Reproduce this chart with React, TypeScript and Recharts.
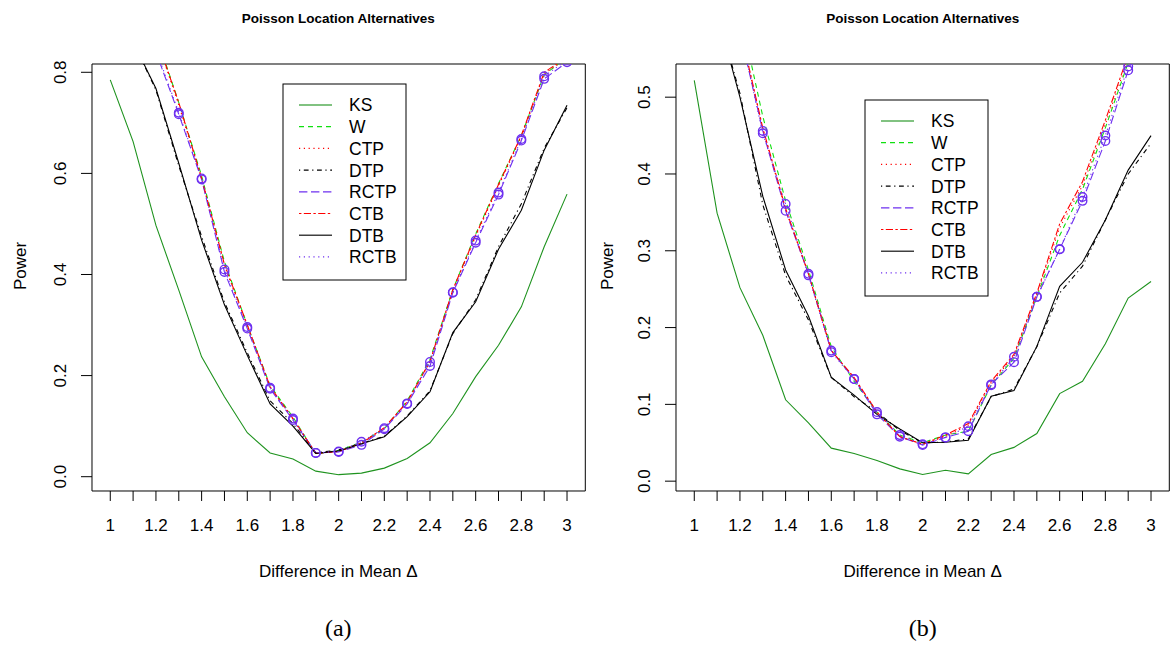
import React from 'react';
import { LineChart, Line, XAxis, YAxis, ReferenceArea } from 'recharts';

const delta = [1, 1.1, 1.2, 1.3, 1.4, 1.5, 1.6, 1.7, 1.8, 1.9, 2, 2.1, 2.2, 2.3, 2.4, 2.5, 2.6, 2.7, 2.8, 2.9, 3];
const xTicks = [1, 1.1, 1.2, 1.3, 1.4, 1.5, 1.6, 1.7, 1.8, 1.9, 2, 2.1, 2.2, 2.3, 2.4, 2.5, 2.6, 2.7, 2.8, 2.9, 3];
const yTicksA = [0, 0.2, 0.4, 0.6, 0.8];
const yTicksB = [0, 0.1, 0.2, 0.3, 0.4, 0.5];

// panel (a)
const ksA = [0.785, 0.663, 0.497, 0.369, 0.237, 0.158, 0.087, 0.047, 0.035, 0.011, 0.004, 0.007, 0.017, 0.036, 0.067, 0.125, 0.198, 0.26, 0.336, 0.455, 0.559];
const wA = [0.99, 0.96, 0.875, 0.74, 0.595, 0.425, 0.3, 0.18, 0.118, 0.045, 0.052, 0.068, 0.095, 0.15, 0.232, 0.37, 0.48, 0.58, 0.675, 0.795, 0.83];
const ctpA = [0.99, 0.96, 0.87, 0.735, 0.59, 0.418, 0.298, 0.177, 0.114, 0.046, 0.05, 0.067, 0.096, 0.147, 0.227, 0.368, 0.475, 0.575, 0.672, 0.797, 0.828];
const dtpA = [0.93, 0.86, 0.765, 0.615, 0.475, 0.345, 0.245, 0.15, 0.105, 0.047, 0.053, 0.066, 0.08, 0.12, 0.17, 0.283, 0.35, 0.455, 0.54, 0.65, 0.73];
const rctpA = [0.98, 0.94, 0.84, 0.717, 0.588, 0.405, 0.293, 0.174, 0.112, 0.047, 0.049, 0.063, 0.094, 0.144, 0.219, 0.364, 0.463, 0.558, 0.665, 0.787, 0.82];
const ctbA = [0.99, 0.96, 0.87, 0.74, 0.59, 0.42, 0.3, 0.178, 0.115, 0.046, 0.05, 0.066, 0.097, 0.148, 0.228, 0.37, 0.478, 0.578, 0.675, 0.8, 0.83];
const dtbA = [0.93, 0.86, 0.768, 0.62, 0.468, 0.34, 0.24, 0.144, 0.1, 0.046, 0.051, 0.065, 0.079, 0.119, 0.168, 0.285, 0.346, 0.45, 0.527, 0.646, 0.735];
const rctbA = [0.98, 0.94, 0.845, 0.72, 0.59, 0.41, 0.296, 0.176, 0.115, 0.047, 0.05, 0.069, 0.096, 0.145, 0.227, 0.365, 0.467, 0.562, 0.668, 0.792, 0.825];

// panel (b)
const ksB = [0.522, 0.349, 0.252, 0.19, 0.106, 0.076, 0.043, 0.036, 0.027, 0.016, 0.0087, 0.0143, 0.0096, 0.0347, 0.044, 0.062, 0.114, 0.13, 0.179, 0.2385, 0.26];
const wB = [0.8, 0.7, 0.611, 0.475, 0.365, 0.275, 0.175, 0.13, 0.09, 0.06, 0.05, 0.06, 0.065, 0.125, 0.16, 0.24, 0.32, 0.38, 0.46, 0.545, 0.62];
const ctpB = [0.8, 0.7, 0.59, 0.458, 0.353, 0.27, 0.17, 0.134, 0.09, 0.058, 0.048, 0.058, 0.073, 0.128, 0.163, 0.243, 0.33, 0.385, 0.465, 0.55, 0.625];
const dtpB = [0.75, 0.61, 0.505, 0.36, 0.268, 0.21, 0.135, 0.11, 0.09, 0.066, 0.05, 0.051, 0.055, 0.11, 0.12, 0.175, 0.245, 0.28, 0.34, 0.4, 0.44];
const rctpB = [0.79, 0.69, 0.585, 0.456, 0.352, 0.27, 0.17, 0.133, 0.087, 0.058, 0.047, 0.057, 0.065, 0.126, 0.155, 0.24, 0.302, 0.365, 0.443, 0.535, 0.61];
const ctbB = [0.8, 0.7, 0.59, 0.46, 0.355, 0.27, 0.17, 0.135, 0.09, 0.058, 0.048, 0.06, 0.075, 0.13, 0.165, 0.245, 0.335, 0.39, 0.47, 0.555, 0.63];
const dtbB = [0.75, 0.61, 0.5, 0.371, 0.275, 0.215, 0.135, 0.112, 0.087, 0.068, 0.05, 0.0507, 0.0533, 0.1105, 0.118, 0.1755, 0.2536, 0.285, 0.34, 0.405, 0.45];
const rctbB = [0.79, 0.69, 0.587, 0.453, 0.361, 0.268, 0.168, 0.133, 0.09, 0.06, 0.048, 0.057, 0.0715, 0.125, 0.162, 0.24, 0.302, 0.37, 0.45, 0.54, 0.615];

const PURPLE = '#6E30F0';
const FONT = '"Liberation Sans", Arial, Helvetica, sans-serif';

const series = [
  { key: 'KS', color: '#1F931F', dash: undefined as string | undefined, dots: false },
  { key: 'W', color: '#10E010', dash: '5 4', dots: false },
  { key: 'CTP', color: '#FF0000', dash: '1.2 3.6', dots: false },
  { key: 'DTP', color: '#000000', dash: '1.2 3.6 4.8 3.6', dots: false },
  { key: 'RCTP', color: PURPLE, dash: '8.4 3.6', dots: true },
  { key: 'CTB', color: '#FF0000', dash: '2.4 2.4 7.2 2.4', dots: false },
  { key: 'DTB', color: '#000000', dash: undefined, dots: false },
  { key: 'RCTB', color: PURPLE, dash: '1.2 3.6', dots: true },
];

const buildRows = (cols: Record<string, number[]>) =>
  delta.map((d, i) => {
    const row: Record<string, number> = { delta: d };
    Object.keys(cols).forEach(k => { row[k] = cols[k][i]; });
    return row;
  });

const rowsA = buildRows({ KS: ksA, W: wA, CTP: ctpA, DTP: dtpA, RCTP: rctpA, CTB: ctbA, DTB: dtbA, RCTB: rctbA });
const rowsB = buildRows({ KS: ksB, W: wB, CTP: ctpB, DTP: dtpB, RCTP: rctpB, CTB: ctbB, DTB: dtbB, RCTB: rctbB });

const XTick = (props: any) => {
  const { x, y, payload } = props;
  const v = payload.value as number;
  if (Math.round(v * 10) % 2 !== 0) return <g />;
  return (
    <text x={x} y={y + 30} textAnchor="middle" fontSize={17} fontFamily={FONT} fill="#000">
      {String(Math.round(v * 10) / 10)}
    </text>
  );
};

const YTick = (props: any) => {
  const { x, y, payload } = props;
  const bx = x - 15;
  return (
    <text x={bx} y={y} transform={`rotate(-90, ${bx}, ${y})`} textAnchor="middle" fontSize={17} fontFamily={FONT} fill="#000">
      {(payload.value as number).toFixed(1)}
    </text>
  );
};

interface PanelProps {
  rows: Record<string, number>[];
  plotLeft: number;
  plotRight: number;
  yDomain: [number, number];
  yTicks: number[];
}

function Panel({ rows, plotLeft, plotRight, yDomain, yTicks }: PanelProps) {
  const axisW = 40;
  const chartLeft = plotLeft - 90;
  const width = plotRight + 3 - chartLeft;
  return (
    <div style={{ position: 'absolute', left: chartLeft, top: 0 }}>
      <LineChart width={width} height={600} data={rows} margin={{ top: 64, left: 90 - axisW, right: 3, bottom: 600 - 491 - 40 }}>
        <XAxis
          dataKey="delta"
          type="number"
          domain={[0.92, 3.08]}
          ticks={xTicks}
          allowDataOverflow
          axisLine={false}
          tickLine={{ stroke: '#000' }}
          tickSize={10}
          tickMargin={0}
          height={40}
          tick={<XTick />}
          interval={0}
        />
        <YAxis
          type="number"
          domain={yDomain}
          ticks={yTicks}
          allowDataOverflow
          axisLine={false}
          tickLine={{ stroke: '#000' }}
          tickSize={11}
          tickMargin={0}
          width={axisW}
          tick={<YTick />}
          interval={0}
        />
        {series.map(s => (
          <Line
            key={s.key}
            dataKey={s.key}
            type="linear"
            stroke={s.color}
            strokeWidth={1.1}
            strokeDasharray={s.dash}
            dot={s.dots ? { r: 4.3, fill: 'none', stroke: PURPLE, strokeWidth: 1.4, strokeDasharray: 'none' } : false}
            activeDot={false}
            isAnimationActive={false}
          />
        ))}
        <ReferenceArea x1={0.92} x2={3.08} y1={yDomain[0]} y2={yDomain[1]} fill="none" stroke="#000" strokeWidth={1} ifOverflow="visible" />
      </LineChart>
    </div>
  );
}

function LegendBox({ left, top }: { left: number; top: number }) {
  const w = 123;
  const h = 196;
  return (
    <svg width={w + 2} height={h + 2} style={{ position: 'absolute', left: left - 1, top: top - 1 }}>
      <rect x={1} y={1} width={w} height={h} fill="#fff" stroke="#000" strokeWidth={1} />
      {series.map((s, i) => {
        const cy = 1 + 21 + i * 21.7;
        const solid = !s.dash;
        return (
          <g key={s.key}>
            <line x1={17} x2={50} y1={cy} y2={cy} stroke={s.color} strokeWidth={solid ? 1.6 : 1.2} strokeOpacity={solid ? 0.75 : 1} strokeDasharray={s.dash} />
            <text x={67} y={cy + 6.4} fontSize={17.5} fontFamily={FONT} fill="#000">{s.key}</text>
          </g>
        );
      })}
    </svg>
  );
}

export default function App() {
  const plots = [
    { cx: 338.3, title: 'Poisson Location Alternatives', tag: '(a)', ylabX: 26 },
    { cx: 922.7, title: 'Poisson Location Alternatives', tag: '(b)', ylabX: 613 },
  ];
  return (
    <div style={{ position: 'absolute', left: 0, top: 0, width: 1172, height: 652, overflow: 'hidden', background: '#fff' }}>
      <Panel rows={rowsA} plotLeft={91.7} plotRight={585} yDomain={[-0.0283, 0.8164]} yTicks={yTicksA} />
      <Panel rows={rowsB} plotLeft={676} plotRight={1169.3} yDomain={[-0.0128, 0.5432]} yTicks={yTicksB} />
      <LegendBox left={282.7} top={84} />
      <LegendBox left={864.7} top={100} />
      <svg width={1172} height={652} style={{ position: 'absolute', left: 0, top: 0, pointerEvents: 'none' }}>
        {plots.map(p => (
          <g key={p.tag}>
            <text x={p.cx} y={23} textAnchor="middle" fontSize={13.5} fontWeight="bold" fontFamily={FONT}>{p.title}</text>
            <text x={p.cx} y={577} textAnchor="middle" fontSize={17} fontFamily={FONT}>Difference in Mean Δ</text>
            <text x={p.ylabX} y={266} transform={`rotate(-90, ${p.ylabX}, 266)`} textAnchor="middle" fontSize={17} fontFamily={FONT}>Power</text>
            <text x={p.cx} y={636} textAnchor="middle" fontSize={24} fontFamily='"Liberation Serif", "Times New Roman", serif'>{p.tag}</text>
          </g>
        ))}
      </svg>
    </div>
  );
}
